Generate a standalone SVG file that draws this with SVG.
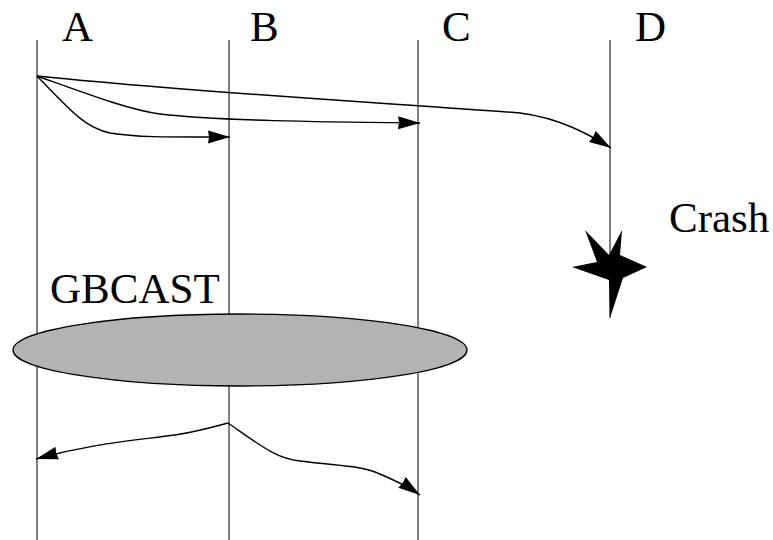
<svg xmlns="http://www.w3.org/2000/svg" width="773" height="540" viewBox="0 0 773 540">
<defs>
<style>
.life{stroke:#555;stroke-width:1.5;fill:none}
.msg{stroke:#000;stroke-width:1.4;fill:none;marker-end:url(#ah)}
.lbl{font-family:"Liberation Serif","Times New Roman",serif;font-size:43px;fill:#000}
</style>
<marker id="ah" markerUnits="userSpaceOnUse" markerWidth="24" markerHeight="14" refX="22" refY="6.5" orient="auto" viewBox="0 0 24 13">
<path d="M0,0 L22,6.5 L0,13 L1,6.5 Z" fill="#000"/>
</marker>
</defs>
<rect width="773" height="540" fill="#fff"/>
<g id="lifeline-A"><line class="life" x1="37" y1="40" x2="37" y2="540"/><text class="lbl" x="62" y="41">A</text></g>
<g id="lifeline-B"><line class="life" x1="229" y1="40" x2="229" y2="540"/><text class="lbl" x="250" y="41">B</text></g>
<g id="lifeline-C"><line class="life" x1="418" y1="40" x2="418" y2="540"/><text class="lbl" x="442" y="41">C</text></g>
<g id="lifeline-D"><line class="life" x1="610" y1="40" x2="610" y2="318"/><text class="lbl" x="635" y="41">D</text></g>
<g id="crash">
<polygon points="585,230 609,255 622,230 620,255 647,267 623,278 610,318 609,280 572,267 597,262" fill="#000"/>
<text class="lbl" x="669" y="232">Crash</text>
</g>
<g id="gbcast">
<ellipse cx="240" cy="350" rx="227" ry="36" fill="#b3b3b3" stroke="#000" stroke-width="1.3"/>
<text class="lbl" x="50" y="303">GBCAST</text>
</g>
<g id="connectors">
<path class="msg" d="M37,76 C70,110 85,128 110,133 C140,138 180,137 230,137"/>
<path class="msg" d="M37,76 C90,95 130,110 160,114 C220,121 330,122 420,123"/>
<path class="msg" d="M37,76 C200,93 420,105 520,113 C560,118 590,135 611,148"/>
<path class="msg" d="M228,423 C210,428 195,432 175,435 C130,441 90,444 36,459"/>
<path class="msg" d="M228,423 C260,445 275,458 300,461 C340,466 360,466 375,472 C395,480 410,488 420,495"/>
</g>
</svg>
